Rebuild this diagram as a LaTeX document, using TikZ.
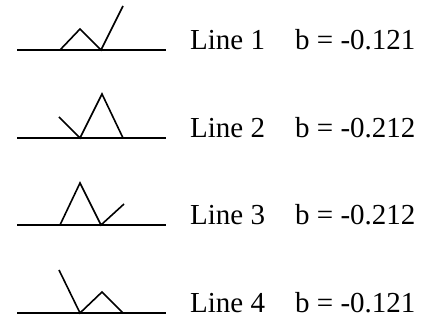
\documentclass[tikz,border=0pt]{standalone}
\usepackage{fontspec}
\setmainfont{Liberation Serif}
\usepackage{tikz}

\begin{document}
\begin{tikzpicture}[x=1pt, y=-1pt,
        profile/.style={line width=1.6pt, line join=miter},
        label/.style={anchor=base west, inner sep=0pt, font=\fontsize{29}{34}\selectfont}
    ]
        \useasboundingbox (0,0) rectangle (432,320);

        % Line 1
        \draw [profile] (17,50) -- (166,50);
        \draw [profile] (60,50) -- (80,29) -- (101,50) -- (123,6);
        \node (name1) [label] at (190,50) {Line 1};
        \node (val1) [label] at (295,50) {b = -0.121};

        % Line 2
        \draw [profile] (17,138) -- (166,138);
        \draw [profile] (59,117) -- (80,138) -- (102,94) -- (123,138);
        \node (name2) [label] at (190,138) {Line 2};
        \node (val2) [label] at (295,138) {b = -0.212};

        % Line 3
        \draw [profile] (17,225) -- (166,225);
        \draw [profile] (60,225) -- (80,183) -- (101,225) -- (124,204);
        \node (name3) [label] at (190,225) {Line 3};
        \node (val3) [label] at (295,225) {b = -0.212};

        % Line 4
        \draw [profile] (17,313) -- (166,313);
        \draw [profile] (59,270) -- (80,313) -- (102,292) -- (123,313);
        \node (name4) [label] at (190,313) {Line 4};
        \node (val4) [label] at (295,313) {b = -0.121};
    \end{tikzpicture}
\end{document}
